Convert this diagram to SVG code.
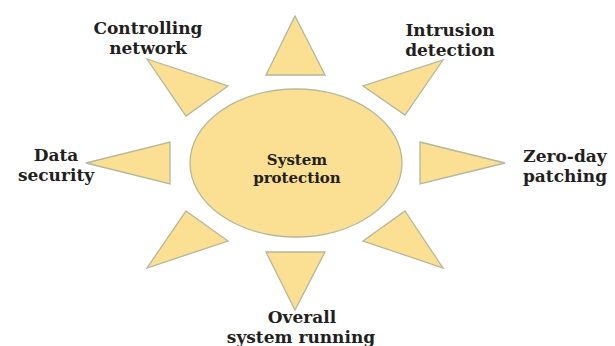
<svg xmlns="http://www.w3.org/2000/svg" width="615" height="346" viewBox="0 0 615 346">
  <style>
    .sun { fill: #FBDF92; stroke: #B3B89C; stroke-width: 1.3; stroke-linejoin: miter; }
    .lbl { font-family: "DejaVu Serif", "Liberation Serif", serif; font-weight: bold; font-size: 17px; fill: #231F20; text-anchor: middle; }
    .core { font-size: 15px; }
  </style>
  <rect width="615" height="346" fill="#FFFFFF"/>

  <!-- central disc -->
  <g id="system-protection">
    <ellipse class="sun" cx="296" cy="163" rx="106" ry="74"/>
    <text class="lbl core" x="297" y="165">System</text>
    <text class="lbl core" x="297" y="183">protection</text>
  </g>

  <!-- rays -->
  <g id="ray-top">
    <polygon class="sun" points="295,16 325,75 266,75"/>
  </g>
  <g id="controlling-network">
    <polygon class="sun" points="147,59 228,86 186,116"/>
    <text class="lbl" x="148" y="34">Controlling</text>
    <text class="lbl" x="148" y="54">network</text>
  </g>
  <g id="intrusion-detection">
    <polygon class="sun" points="443,60 405,115 363,86"/>
    <text class="lbl" x="450" y="36">Intrusion</text>
    <text class="lbl" x="450" y="56">detection</text>
  </g>
  <g id="data-security">
    <polygon class="sun" points="86,163 170,142 170,184"/>
    <text class="lbl" x="56" y="161">Data</text>
    <text class="lbl" x="56" y="181">security</text>
  </g>
  <g id="zero-day-patching">
    <polygon class="sun" points="420,142 505,163 420,184"/>
    <text class="lbl" x="565" y="162">Zero-day</text>
    <text class="lbl" x="565" y="182">patching</text>
  </g>
  <g id="ray-lower-left">
    <polygon class="sun" points="186,211 228,241 147,268"/>
  </g>
  <g id="ray-lower-right">
    <polygon class="sun" points="405,211 443,268 363,241"/>
  </g>
  <g id="overall-system-running">
    <polygon class="sun" points="266,252 325,252 295,310"/>
    <text class="lbl" x="302" y="323">Overall</text>
    <text class="lbl" x="301" y="343">system running</text>
  </g>
</svg>
